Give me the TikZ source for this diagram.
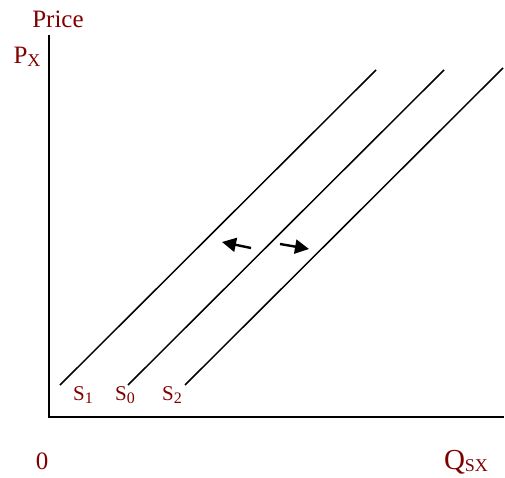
\documentclass[tikz,border=0pt]{standalone}
\usepackage{fontspec}
\setmainfont{Liberation Serif}
\usetikzlibrary{positioning,arrows.meta}
\definecolor{lbl}{RGB}{128,0,0}
\newcommand{\lowsub}[2][16]{\raisebox{-2.5pt}{\fontsize{#1}{#1}\selectfont #2}}

\begin{document}
\begin{tikzpicture}[x=1pt,y=-1pt,
    lab/.style={text=lbl,inner sep=0pt,font=\fontsize{25}{27}\selectfont},
    slab/.style={text=lbl,inner sep=0pt,font=\fontsize{21}{23}\selectfont},
    supply/.style={line width=1.5pt},
    axis/.style={line width=1.8pt},
    move/.style={line width=2.4pt,-{Triangle[length=14pt,width=14pt]}}]
\useasboundingbox (0,0) rectangle (505,478);
% axes
\coordinate (ytop) at (49,35);
\coordinate (orig) at (49,417);
\coordinate (xend) at (504,417);
\draw[axis] (ytop) -- (orig) -- (xend);
% supply curves
\coordinate (s1lo) at (60,385);  \coordinate (s1hi) at (376,70);
\coordinate (s0lo) at (128,385); \coordinate (s0hi) at (444,70);
\coordinate (s2lo) at (185,385); \coordinate (s2hi) at (503,68);
\draw[supply] (s1lo) -- (s1hi);
\draw[supply] (s0lo) -- (s0hi);
\draw[supply] (s2lo) -- (s2hi);
% shift arrows
\coordinate (lt) at (251,248); \coordinate (lh) at (222,242);
\coordinate (rt) at (280,244); \coordinate (rh) at (309,249);
\draw[move] (lt) -- (lh);
\draw[move] (rt) -- (rh);
% labels
\node[lab] (price) at (58,19) {Price};
\node[lab] (px) at (27,57) {P\lowsub[18]{X}};
\node[slab] (s1) at (83,395) {S\lowsub{1}};
\node[slab] (s0) at (125,395) {S\lowsub{0}};
\node[slab] (s2) at (172,395) {S\lowsub{2}};
\node[lab] (zero) at (42,461) {0};
\node[lab,font=\fontsize{29}{30}\selectfont] (qsx) at (466,462) {Q\lowsub[18]{SX}};
\end{tikzpicture}
\end{document}
